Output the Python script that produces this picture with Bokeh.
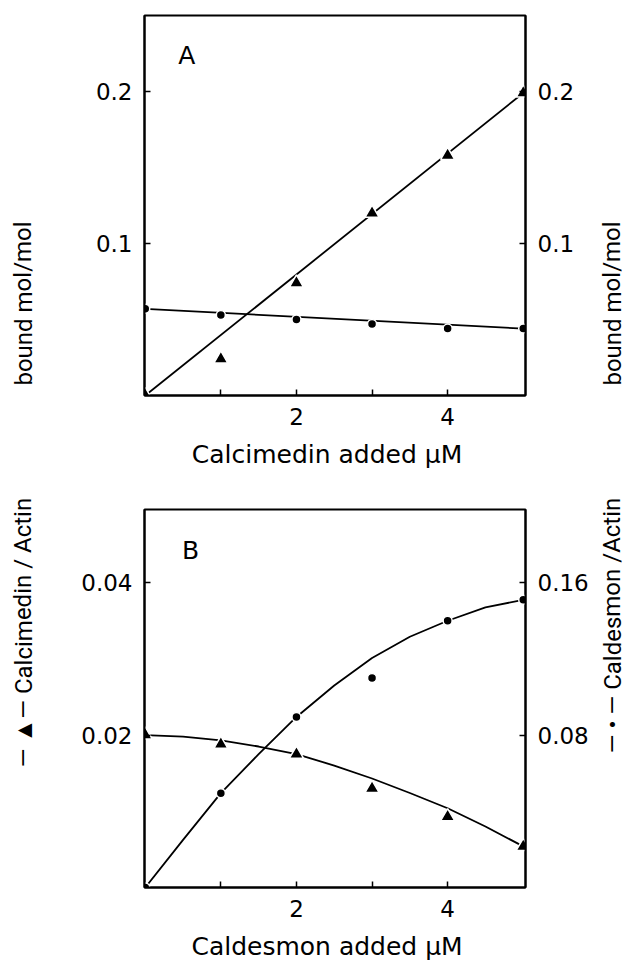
from bokeh.plotting import figure
from bokeh.layouts import row, column
from bokeh.models import Range1d, LinearAxis, FixedTicker, Label, PrintfTickFormatter
from bokeh.core.properties import value
from bokeh.embed import file_html
from bokeh.resources import INLINE

FONT = "DejaVu Sans"
NARROW = "Roboto"

# ---------------- data: panel A (Calcimedin added, uM) ----------------
a_x = [0, 1, 2, 3, 4, 5]
a_calcimedin = [0.0, 0.024, 0.074, 0.120, 0.158, 0.199]      # left axis
a_caldesmon = [0.057, 0.053, 0.050, 0.047, 0.044, 0.044]     # right axis
a_calcimedin_fit_x = [0, 5]
a_calcimedin_fit_y = [0.0, 0.199]
a_caldesmon_fit_x = [0, 5]
a_caldesmon_fit_y = [0.057, 0.044]

# ---------------- data: panel B (Caldesmon added, uM) ----------------
b_x = [0, 1, 2, 3, 4, 5]
b_calcimedin = [0.0200, 0.0188, 0.0175, 0.0130, 0.0093, 0.0054]   # left axis
b_caldesmon = [0.0, 0.0495, 0.0895, 0.110, 0.140, 0.151]          # right axis
b_fit_x = [0, 0.5, 1, 1.5, 2, 2.5, 3, 3.5, 4, 4.5, 5]
b_calcimedin_fit = [0.0200, 0.0198, 0.0193, 0.0185, 0.0175, 0.0160, 0.0143, 0.0124, 0.0104, 0.0080, 0.0054]
b_caldesmon_fit = [0.0, 0.025, 0.0495, 0.070, 0.0895, 0.106, 0.1205, 0.1316, 0.140, 0.147, 0.151]

x_ticks = [1, 2, 3, 4]
x_tick_labels = {1: "", 2: "2", 3: "", 4: "4"}
a_left_ticks = [0.1, 0.2]
a_right_ticks = [0.1, 0.2]
b_left_ticks = [0.02, 0.04]
b_right_ticks = [0.08, 0.16]

LEFT_LABEL_1 = "bound  mol/mol"
LEFT_LABEL_2 = "\u2014 \u25b2\u2014 Calcimedin / Actin"
RIGHT_LABEL_1 = "bound  mol/mol"
RIGHT_LABEL_2 = "\u2014 \u2022 \u2014 Caldesmon /Actin"


def style_axis(ax, fmt=None):
    ax.axis_line_color = "black"
    ax.axis_line_width = 2
    ax.major_tick_in = 6
    ax.major_tick_out = 0
    ax.minor_tick_line_color = None
    ax.major_tick_line_width = 1.5
    ax.major_label_text_font = FONT
    ax.major_label_text_font_size = "23px"
    ax.major_label_text_color = "black"
    ax.axis_label_text_font = FONT
    ax.axis_label_text_font_size = "25px"
    ax.axis_label_text_font_style = "normal"
    ax.axis_label_text_color = "black"
    if fmt is not None:
        ax.formatter = PrintfTickFormatter(format=fmt)


def panel(h, top, bottom, yl_end, yr_end, yl_ticks, yr_ticks, fmt_l, fmt_r, xlabel, letter, letter_xy):
    p = figure(width=540, height=h, output_backend="svg", toolbar_location=None,
               x_range=Range1d(-0.01, 5.03), y_range=Range1d(0, yl_end),
               min_border_left=86, min_border_right=73,
               min_border_top=top, min_border_bottom=bottom)
    p.extra_y_ranges = {"r": Range1d(0, yr_end)}
    p.xgrid.visible = False
    p.ygrid.visible = False
    p.outline_line_color = "black"
    p.outline_line_width = 2
    p.background_fill_color = "white"
    p.border_fill_color = "white"

    xa = p.xaxis[0]
    style_axis(xa)
    xa.ticker = FixedTicker(ticks=x_ticks)
    xa.major_label_overrides = x_tick_labels
    xa.major_label_standoff = 12
    xa.axis_label = xlabel
    xa.axis_label_standoff = 12

    ya = p.yaxis[0]
    style_axis(ya, fmt_l)
    ya.ticker = FixedTicker(ticks=yl_ticks)
    ya.major_label_standoff = 12

    ra = LinearAxis(y_range_name="r")
    style_axis(ra, fmt_r)
    ra.ticker = FixedTicker(ticks=yr_ticks)
    ra.major_label_standoff = 12
    p.add_layout(ra, "right")

    p.add_layout(Label(x=letter_xy[0], y=letter_xy[1], text=letter,
                       text_font=FONT, text_font_size="25px", text_color="black",
                       text_align="center", text_baseline="middle"))
    return p


pA = panel(483, 15, 88, 0.25, 0.25, a_left_ticks, a_right_ticks, "%.1f", "%.1f",
           "Calcimedin  added  \u03bcM", "A", (0.55, 0.224))
pA.line(a_calcimedin_fit_x, a_calcimedin_fit_y, line_color="black", line_width=1.8)
pA.line(a_caldesmon_fit_x, a_caldesmon_fit_y, line_color="black", line_width=1.8, y_range_name="r")
pA.scatter(a_x, a_calcimedin, marker="triangle", size=14, fill_color="black",
           line_color="white", line_width=1.5)
pA.scatter(a_x, a_caldesmon, marker="circle", size=9, fill_color="black",
           line_color="white", line_width=1.5, y_range_name="r")

pB = panel(487, 26, 83, 0.0496, 0.1984, b_left_ticks, b_right_ticks, "%.2f", "%.2f",
           "Caldesmon  added  \u03bcM", "B", (0.6, 0.0442))
pB.line(b_fit_x, b_calcimedin_fit, line_color="black", line_width=1.8)
pB.line(b_fit_x, b_caldesmon_fit, line_color="black", line_width=1.8, y_range_name="r")
pB.scatter(b_x, b_calcimedin, marker="triangle", size=14, fill_color="black",
           line_color="white", line_width=1.5)
pB.scatter(b_x, b_caldesmon, marker="circle", size=9, fill_color="black",
           line_color="white", line_width=1.5, y_range_name="r")


def label_fig(w, texts):
    H = 970
    f = figure(width=w, height=H, output_backend="svg", toolbar_location=None,
               x_range=Range1d(0, w), y_range=Range1d(0, H),
               min_border=0, min_border_left=0, min_border_right=0,
               min_border_top=0, min_border_bottom=0)
    f.axis.visible = False
    f.grid.visible = False
    f.outline_line_color = None
    for (tx, ty, t) in texts:
        f.text(x=[tx], y=[ty], text=[t], angle=1.5708,
               text_font=value(NARROW), text_font_size="24px",
               text_align="center", text_baseline="middle", text_color="black")
    return f


left = label_fig(58, [(23, 970 - 300, LEFT_LABEL_1), (23, 970 - 632, LEFT_LABEL_2)])
right = label_fig(43, [(14, 970 - 300, RIGHT_LABEL_1), (14, 970 - 625, RIGHT_LABEL_2)])

layout = row(left, column(pA, pB), right)
open("out.html", "w").write(file_html(layout, INLINE))
